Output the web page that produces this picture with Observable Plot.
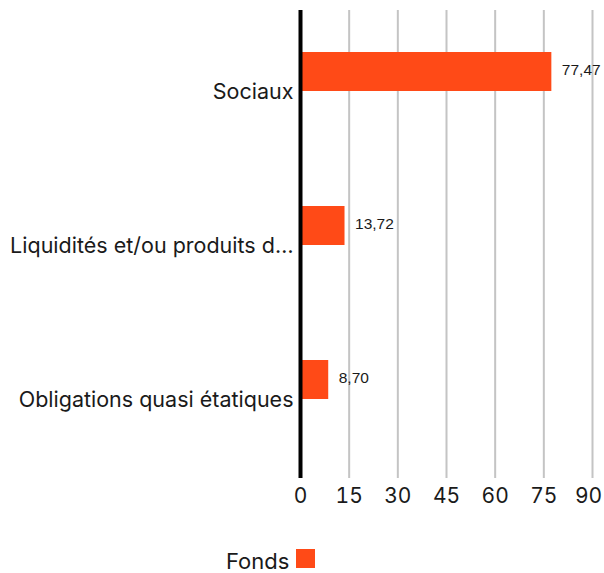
<!DOCTYPE html>
<html>
<head>
<meta charset="utf-8">
<script src="https://cdn.jsdelivr.net/npm/d3@7"></script>
<script src="https://cdn.jsdelivr.net/npm/@observablehq/plot@0.6"></script>
<style>
  body { margin: 0; background: #fff; font-family: Inter, "Noto Sans", sans-serif; }
  #legend { display: flex; align-items: center; padding-left: 226px; margin-top: 30px; font-size: 22px; line-height: 1; color: #1a1a1a; }
  #legend .sw { width: 19px; height: 19px; background: #ff4a17; margin-left: 7px; position: relative; top: -3px; }
</style>
</head>
<body>
<div id="chart"></div>
<div id="legend"><span>Fonds</span><span class="sw"></span></div>
<script>
const categories = ["Sociaux", "Liquidités et/ou produits d…", "Obligations quasi étatiques"];
const values = [77.47, 13.72, 8.70];
const xTicks = [0, 15, 30, 45, 60, 75, 90];
const seriesName = "Fonds";

const data = categories.map((c, i) => ({category: c, value: values[i]}));
const fmt = v => v.toFixed(2).replace(".", ",");
const lastTick = xTicks[xTicks.length - 1];

const chart = Plot.plot({
  width: 604,
  height: 520,
  marginTop: 10,
  marginBottom: 42,
  marginLeft: 300,
  marginRight: 12,
  style: {fontFamily: "Inter, 'Noto Sans', sans-serif", color: "#1a1a1a", background: "#fff"},
  x: {domain: [0, lastTick], ticks: xTicks, label: null},
  y: {domain: categories, paddingInner: 0.75, paddingOuter: 0.25, insetTop: 2, insetBottom: 40, label: null},
  marks: [
    Plot.gridX(xTicks.filter(d => d > 0), {stroke: "#c4c4c4", strokeOpacity: 1, strokeWidth: 2}),
    Plot.barX(data, {x: "value", y: "category", fill: "#ff4a17"}),
    Plot.text(data, {x: "value", y: "category", text: d => fmt(d.value), dx: 10, dy: -2, textAnchor: "start", fontSize: 15.5, fontFamily: "'Liberation Sans Narrow', 'Liberation Sans', sans-serif", fill: "#1a1a1a"}),
    Plot.ruleX([0], {stroke: "#000", strokeWidth: 4}),
    Plot.axisX({ticks: xTicks.filter(d => d !== lastTick), tickSize: 0, tickPadding: 10, fontSize: 21, label: null}),
    Plot.axisX({ticks: [lastTick], tickSize: 0, tickPadding: 10, fontSize: 21, dx: -4, label: null}),
    Plot.axisY({tickSize: 0, tickPadding: 7, fontSize: 21.5, dy: 20, label: null})
  ]
});
document.getElementById("chart").appendChild(chart);
</script>
</body>
</html>
